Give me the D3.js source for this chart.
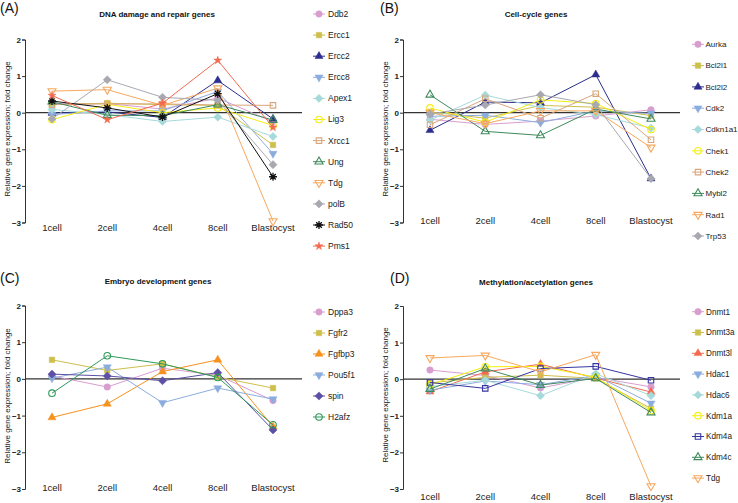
<!DOCTYPE html>
<html><head><meta charset="utf-8">
<script src="https://cdn.jsdelivr.net/npm/d3@7"></script>
<style>body{margin:0;background:#fff} svg{display:block} text{font-family:"Liberation Sans",Arial,Helvetica,sans-serif}</style>
</head><body><svg id="c" width="738" height="503"></svg>
<script>
// ---------- data ----------
const stages = ["1cell","2cell","4cell","8cell","Blastocyst"];
const yTicks = [2,1,0,-1,-2,-3];

const genesA = ["Ddb2","Ercc1","Ercc2","Ercc8","Apex1","Lig3","Xrcc1","Ung","Tdg","polB","Rad50","Pms1"];
const valuesA = [
  [0.25, 0.25, 0.10, 0.40, -0.25],
  [0.22, 0.26, 0.22, 0.20, -0.88],
  [-0.01, 0.02, -0.13, 0.88, -0.17],
  [-0.05, 0.05, 0.05, 0.58, -1.12],
  [0.09, -0.05, -0.24, -0.12, -0.65],
  [-0.19, 0.23, 0.00, 0.13, -0.35],
  [0.22, 0.24, 0.24, 0.21, 0.20],
  [0.30, -0.07, -0.08, 0.22, -0.20],
  [0.59, 0.63, 0.20, 0.67, -2.96],
  [-0.17, 0.90, 0.42, 0.34, -1.42],
  [0.32, 0.13, -0.12, 0.52, -1.75],
  [0.47, -0.19, 0.26, 1.43, -0.40]
];

const genesB = ["Aurka","Bcl2l1","Bcl2l2","Cdk2","Cdkn1a1","Chek1","Chek2","Mybl2","Rad1","Trp53"];
const valuesB = [
  [-0.18, -0.32, -0.23, -0.09, 0.08],
  [0.02, -0.15, 0.20, 0.15, -0.08],
  [-0.48, 0.29, 0.27, 1.04, -1.80],
  [-0.10, -0.07, -0.27, 0.05, -0.02],
  [-0.20, 0.48, 0.14, -0.05, -0.42],
  [0.13, -0.26, 0.35, 0.25, -0.46],
  [-0.33, 0.38, -0.15, 0.52, -0.74],
  [0.49, -0.51, -0.62, 0.10, -0.17],
  [0.00, -0.30, 0.05, 0.05, -0.95],
  [-0.04, 0.21, 0.49, 0.22, -1.80]
];

const genesC = ["Dppa3","Fgfr2","Fgfbp3","Pou5f1","spin","H2afz"];
const valuesC = [
  [0.08, -0.22, 0.29, 0.10, -0.59],
  [0.52, 0.23, 0.41, 0.05, -0.25],
  [-1.05, -0.68, 0.20, 0.52, -1.30],
  [0.02, 0.32, -0.65, -0.25, -0.55],
  [0.13, 0.08, -0.05, 0.17, -1.39],
  [-0.39, 0.63, 0.41, 0.04, -1.25]
];

const genesD = ["Dnmt1","Dnmt3a","Dnmt3l","Hdac1","Hdac6","Kdm1a","Kdm4a","Kdm4c","Tdg"];
const valuesD = [
  [0.25, 0.10, -0.24, 0.05, -0.21],
  [-0.10, 0.05, 0.11, 0.02, -0.80],
  [-0.34, 0.20, 0.41, 0.03, -0.35],
  [-0.30, -0.05, -0.15, 0.10, -0.66],
  [-0.20, -0.03, -0.45, 0.15, -0.45],
  [-0.15, 0.34, 0.35, 0.05, -0.86],
  [-0.09, -0.25, 0.29, 0.35, -0.03],
  [-0.27, 0.29, -0.16, 0.02, -0.91],
  [0.58, 0.65, 0.20, 0.67, -2.92]
];

// ---------- styles ----------
const C_PINK="#d99ed0", C_OLIVE="#cdbf4c", C_NAVY="#2d2d8e", C_LBLUE="#8badde", C_CYAN="#a6dada",
      C_YEL="#f5ee10", C_TAN="#d9a67c", C_GREEN="#3f8a5c", C_ORANGE="#f7a85e", C_GRAY="#a8a8b0",
      C_BLACK="#111111", C_RED="#f26a4f", C_ORANGE2="#f7921e", C_PURPLE="#5d50a5", C_GREEN2="#2e9a5a", C_NAVY2="#3636a0";

const stylesA = [
  [C_PINK,"circle",false],[C_OLIVE,"square",false],[C_NAVY,"triangle",false],[C_LBLUE,"triangleDown",false],
  [C_CYAN,"diamond",false],[C_YEL,"circle",true],[C_TAN,"square",true],[C_GREEN,"triangle",true],
  [C_ORANGE,"triangleDown",true],[C_GRAY,"diamond",false],[C_BLACK,"asterisk",false],[C_RED,"star",false]
];
const stylesB = [
  [C_PINK,"circle",false],[C_OLIVE,"square",false],[C_NAVY,"triangle",false],[C_LBLUE,"triangleDown",false],
  [C_CYAN,"diamond",false],[C_YEL,"circle",true],[C_TAN,"square",true],[C_GREEN,"triangle",true],
  [C_ORANGE,"triangleDown",true],[C_GRAY,"diamond",false]
];
const stylesC = [
  [C_PINK,"circle",false],[C_OLIVE,"square",false],[C_ORANGE2,"triangle",false],[C_LBLUE,"triangleDown",false],
  [C_PURPLE,"diamond",false],[C_GREEN2,"circle",true]
];
const stylesD = [
  [C_PINK,"circle",false],[C_OLIVE,"square",false],[C_RED,"triangle",false],[C_LBLUE,"triangleDown",false],
  [C_CYAN,"diamond",false],[C_YEL,"circle",true],[C_NAVY2,"square",true],[C_GREEN,"triangle",true],
  [C_ORANGE,"triangleDown",true]
];

const panels = [
  {genes:genesA, values:valuesA, styles:stylesA, title:"DNA damage and repair genes", tag:"(A)",
   axisX:25, yTop:39.5, yBot:222.5, titleX:157, titleY:17, tagX:0, tagY:12.7, xLabY:227.7,
   yLabX:7, yLabY:129, legX:319, legTX:328, legY0:14, legDy:21.1, legFont:8.5},
  {genes:genesB, values:valuesB, styles:stylesB, title:"Cell-cycle genes", tag:"(B)",
   axisX:403, yTop:39.5, yBot:222.5, titleX:536, titleY:17, tagX:380, tagY:13.3, xLabY:220.7,
   yLabX:385, yLabY:129, legX:698, legTX:705.5, legY0:44.3, legDy:21.3, legFont:8},
  {genes:genesC, values:valuesC, styles:stylesC, title:"Embryo development genes", tag:"(C)",
   axisX:25, yTop:305.5, yBot:489, titleX:158, titleY:284, tagX:0, tagY:283.3, xLabY:487.7,
   yLabX:7, yLabY:396, legX:319, legTX:328, legY0:312, legDy:21, legFont:8.5},
  {genes:genesD, values:valuesD, styles:stylesD, title:"Methylation/acetylation genes", tag:"(D)",
   axisX:403, yTop:306, yBot:489, titleX:536, titleY:284.5, tagX:390, tagY:282.7, xLabY:497,
   yLabX:385, yLabY:395, legX:698, legTX:706, legY0:311.7, legDy:20.8, legFont:8.2}
];

// ---------- symbols ----------
const symDiamond = {draw(ctx, size){const r=Math.sqrt(size)*0.68; ctx.moveTo(0,-r); ctx.lineTo(r,0); ctx.lineTo(0,r); ctx.lineTo(-r,0); ctx.closePath();}};
const symAst = {draw(ctx, size){const r=Math.sqrt(size)*0.6; for(let k=0;k<4;k++){const a=k*Math.PI/4; ctx.moveTo(r*Math.cos(a), r*Math.sin(a)); ctx.lineTo(-r*Math.cos(a), -r*Math.sin(a));}}};
function symbolPath(shape){
  switch(shape){
    case "circle": return d3.symbol(d3.symbolCircle, 34)();
    case "square": return d3.symbol(d3.symbolSquare, 30)();
    case "triangle": case "triangleDown": return d3.symbol(d3.symbolTriangle, 28)();
    case "diamond": return d3.symbol(symDiamond, 36)();
    case "asterisk": return d3.symbol(symAst, 44)();
    case "star": return d3.symbol(d3.symbolStar, 20)();
  }
}
function drawMarker(g, x, y, st){
  const [col, shape, open] = st;
  const p = g.append("path").attr("d", symbolPath(shape))
    .attr("transform", `translate(${x},${y})` + (shape==="triangleDown" ? " rotate(180)" : ""));
  if (shape === "asterisk") p.attr("fill","none").attr("stroke",col).attr("stroke-width",1.3);
  else if (open) p.attr("fill","none").attr("stroke",col).attr("stroke-width",1.1);
  else p.attr("fill",col).attr("stroke",col).attr("stroke-width",0.5);
}

const svg = d3.select("#c");
const FONT = '"Liberation Sans",Arial,Helvetica,sans-serif';

panels.forEach(P => {
  const g = svg.append("g");
  const x = d3.scalePoint().domain(stages).range([P.axisX+27, P.axisX+248]);
  const y = d3.scaleLinear().domain([-3,2]).range([P.yBot, P.yTop]);

  // y axis
  const ax = g.append("g").attr("transform",`translate(${P.axisX},0)`)
    .call(d3.axisLeft(y).tickValues(yTicks).tickSize(3).tickPadding(1).tickFormat(d3.format("d")));
  ax.select(".domain").attr("stroke","#333").attr("stroke-width",1);
  ax.selectAll(".tick line").attr("stroke","#333").attr("stroke-width",1);
  ax.selectAll(".tick text").attr("font-family",FONT).attr("font-size",8).attr("font-weight","bold").attr("fill","#222");

  // zero line
  g.append("line").attr("x1",P.axisX).attr("x2",P.axisX+277).attr("y1",y(0)).attr("y2",y(0))
    .attr("stroke","#333").attr("stroke-width",1.2);

  // x labels
  g.selectAll("text.xl").data(stages).enter().append("text").attr("class","xl")
    .attr("x", d => x(d)).attr("y", P.xLabY).attr("dy","0.35em").attr("text-anchor","middle")
    .attr("font-size",9.5).attr("fill","#222").text(d => d);

  // y label
  g.append("text").attr("transform",`translate(${P.yLabX},${P.yLabY}) rotate(-90)`)
    .attr("text-anchor","middle").attr("dy","0.35em").attr("font-size",8).attr("fill","#222")
    .text("Relative gene expression; fold change");

  // title and tag
  g.append("text").attr("x",P.titleX).attr("y",P.titleY).attr("text-anchor","middle")
    .attr("font-size",8).attr("font-weight","bold").attr("fill","#111").text(P.title);
  g.append("text").attr("x",P.tagX).attr("y",P.tagY).attr("font-size",14).attr("fill","#111").text(P.tag);

  // series
  const line = d3.line().x((d,i) => x(stages[i])).y(d => y(d));
  P.values.forEach((vals, si) => {
    const st = P.styles[si];
    g.append("path").attr("d", line(vals)).attr("fill","none").attr("stroke", st[0]).attr("stroke-width",1);
    vals.forEach((v,i) => drawMarker(g, x(stages[i]), y(v), st));
  });

  // legend
  P.genes.forEach((name, i) => {
    const ly = P.legY0 + i*P.legDy;
    const st = P.styles[i];
    g.append("line").attr("x1",P.legX-6).attr("x2",P.legX+6).attr("y1",ly).attr("y2",ly)
      .attr("stroke",st[0]).attr("stroke-width",1);
    drawMarker(g, P.legX, ly, st);
    g.append("text").attr("x",P.legTX).attr("y",ly).attr("dy","0.35em").attr("font-size",P.legFont)
      .attr("fill","#222").text(name);
  });
});
</script>
</body></html>
